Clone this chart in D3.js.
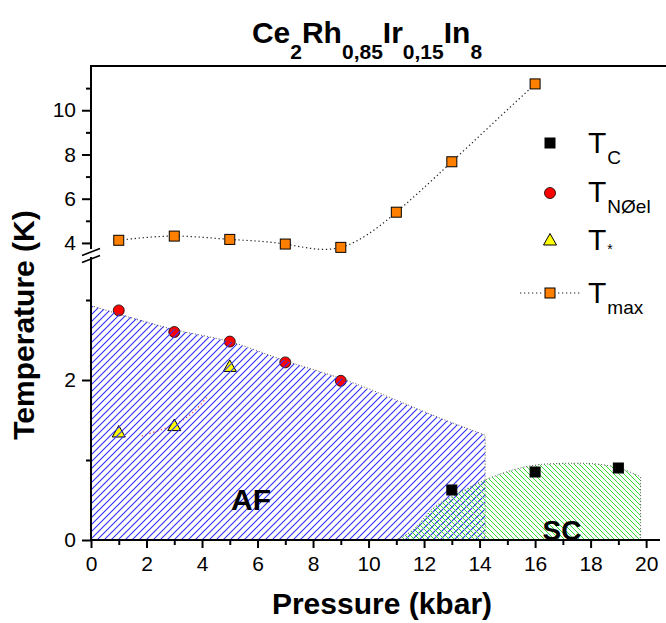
<!DOCTYPE html>
<html>
<head>
<meta charset="utf-8">
<script src="https://cdnjs.cloudflare.com/ajax/libs/d3/7.8.5/d3.min.js"></script>
<style>
body{margin:0;background:#fff;}
text{font-family:"Liberation Sans",Arial,Helvetica,sans-serif;fill:#000;}
</style>
</head>
<body>
<svg id="chart" width="666" height="623"></svg>
<script>
// T_max (orange squares, upper panel)
var maxPressure=[1,3,5,7,9,11,13,16];
var tMax=[4.12,4.31,4.16,3.95,3.80,5.39,7.67,11.19];
// T_Neel (red circles)
var neelPressure=[1,3,5,7,9];
var tNeel=[2.87,2.60,2.48,2.22,1.99];
// T* (yellow triangles) and the short red dotted fit
var starPressure=[1,3,5];
var tStar=[1.35,1.43,2.17];
var starFitPressure=[1.83,2.49,2.85,3.21,3.69,4.17];
var starFitT=[1.30,1.375,1.42,1.48,1.60,1.78];
// T_C (black squares)
var tcPressure=[13,16,19];
var tc=[0.625,0.85,0.90];
// phase boundaries
var afPressure=[0,3,5,7,9,12.9,14.2];
var afT=[2.93,2.63,2.48,2.24,2.02,1.48,1.31];
var scPressure=[10.95,11.6,12.33,13.18,14.2,15.2,16.4,17.6,18.8,19.8];
var scT=[0,0.125,0.40,0.575,0.75,0.875,0.95,0.96,0.92,0.79];
// ticks
var xMajor=[0,2,4,6,8,10,12,14,16,18,20];
var xMinor=[1,3,5,7,9,11,13,15,17,19];
var yTopMajor=[4,6,8,10];
var yTopMinor=[5,7,9,11];
var yLowMajor=[0,2];
var yLowMinor=[1,3];

var svg=d3.select("#chart");
var x=d3.scaleLinear().domain([0,20.5]).range([91,660]);
var yTop=d3.scaleLinear().domain([3.5,12]).range([254,66]);
var yLow=d3.scaleLinear().domain([0,3.5]).range([540,260]);

var defs=svg.append("defs");
defs.append("pattern").attr("id","afHatch").attr("patternUnits","userSpaceOnUse")
	.attr("width",7).attr("height",7)
	.append("path").attr("d","M-1,1 l2,-2 M0,7 l7,-7 M6,8 l2,-2")
	.attr("stroke","#2f2fff").attr("stroke-width",1.1);
defs.append("pattern").attr("id","scHatch").attr("patternUnits","userSpaceOnUse")
	.attr("width",5).attr("height",5)
	.append("path").attr("d","M-1,4 l2,2 M0,0 l5,5 M4,-1 l2,2")
	.attr("stroke","#33dd33").attr("stroke-width",1);

// T_max dotted spline
var lineTop=d3.line().x(function(d){return x(d[0]);}).y(function(d){return yTop(d[1]);}).curve(d3.curveNatural);
svg.append("path").attr("d",lineTop(d3.zip(maxPressure,tMax)))
	.attr("fill","none").attr("stroke","#222").attr("stroke-width",1.2).attr("stroke-dasharray","1.3,2.7");

var lineLow=d3.line().x(function(d){return x(d[0]);}).y(function(d){return yLow(d[1]);});
svg.append("path").attr("d",lineLow.curve(d3.curveMonotoneX)(d3.zip(starFitPressure,starFitT)))
	.attr("fill","none").attr("stroke","#ff4040").attr("stroke-width",1.2).attr("stroke-dasharray","1.3,2.7");

function square(g,cx,cy,fill){
	g.append("rect").attr("x",cx-5).attr("y",cy-5).attr("width",10).attr("height",10)
		.attr("fill",fill).attr("stroke","#000").attr("stroke-width",1);
}
function circle(g,cx,cy){
	g.append("circle").attr("cx",cx).attr("cy",cy).attr("r",5.5)
		.attr("fill","#ff0000").attr("stroke","#000").attr("stroke-width",0.8);
}
function triangle(g,cx,cy){
	g.append("path").attr("d","M"+(cx-6.5)+","+(cy+5)+" L"+cx+","+(cy-6.5)+" L"+(cx+6.5)+","+(cy+5)+" Z")
		.attr("fill","#ffff00").attr("stroke","#000").attr("stroke-width",1);
}

var marks=svg.append("g");
d3.zip(maxPressure,tMax).forEach(function(d){square(marks,x(d[0]),yTop(d[1]),"#ff8000");});
d3.zip(neelPressure,tNeel).forEach(function(d){circle(marks,x(d[0]),yLow(d[1]));});
d3.zip(starPressure,tStar).forEach(function(d){triangle(marks,x(d[0]),yLow(d[1]));});

// hatched phase regions drawn over the points
var afTop=d3.zip(afPressure,afT);
var afLast=afPressure[afPressure.length-1];
var afPoly=afTop.concat([[afLast,0],[0,0]]);
svg.append("path").attr("d",lineLow.curve(d3.curveLinear)(afPoly)+"Z").attr("fill","url(#afHatch)");
svg.append("path").attr("d",lineLow.curve(d3.curveMonotoneX)(afTop)+"L"+x(afLast)+","+yLow(0))
	.attr("fill","none").attr("stroke","#555").attr("stroke-width",1).attr("stroke-dasharray","1,2");

var scTop=d3.zip(scPressure,scT);
var scLast=scPressure[scPressure.length-1];
svg.append("path").attr("d",lineLow.curve(d3.curveMonotoneX)(scTop)+"L"+x(scLast)+","+yLow(0)+"L"+x(scPressure[0])+","+yLow(0)+"Z")
	.attr("fill","url(#scHatch)");
svg.append("path").attr("d",lineLow.curve(d3.curveMonotoneX)(scTop)+"L"+x(scLast)+","+yLow(0))
	.attr("fill","none").attr("stroke","#555").attr("stroke-width",1).attr("stroke-dasharray","1,2");

// T_C squares stay on top
var tcMarks=svg.append("g");
d3.zip(tcPressure,tc).forEach(function(d){square(tcMarks,x(d[0]),yLow(d[1]),"#000");});

svg.append("text").attr("x",251).attr("y",510).attr("text-anchor","middle")
	.style("font-size","30px").style("font-weight","bold").text("AF");
svg.append("text").attr("x",562).attr("y",540).attr("text-anchor","middle")
	.style("font-size","28px").style("font-weight","bold").text("SC");

// axes
var fmt=d3.format("d");
svg.append("g").attr("transform","translate(0,540)")
	.call(d3.axisBottom(x).tickValues(xMajor).tickSize(8).tickPadding(8).tickFormat(fmt));
svg.append("g").attr("transform","translate(0,540)")
	.call(d3.axisBottom(x).tickValues(xMinor).tickSize(5).tickFormat(""));
svg.append("g").attr("transform","translate(91,0)")
	.call(d3.axisLeft(yTop).tickValues(yTopMajor).tickSize(9).tickPadding(6).tickFormat(fmt));
svg.append("g").attr("transform","translate(91,0)")
	.call(d3.axisLeft(yTop).tickValues(yTopMinor).tickSize(5).tickFormat(""));
svg.append("g").attr("transform","translate(91,0)")
	.call(d3.axisLeft(yLow).tickValues(yLowMajor).tickSize(9).tickPadding(6).tickFormat(fmt));
svg.append("g").attr("transform","translate(91,0)")
	.call(d3.axisLeft(yLow).tickValues(yLowMinor).tickSize(5).tickFormat(""));
svg.selectAll(".domain").remove();
svg.selectAll(".tick line").attr("stroke","#000").attr("stroke-width",2);
svg.selectAll(".tick text").style("font-size","21px").attr("font-family",null);

// frame lines with the break on the left axis
svg.append("line").attr("x1",91).attr("x2",666).attr("y1",66).attr("y2",66).attr("stroke","#000").attr("stroke-width",2);
svg.append("line").attr("x1",90).attr("x2",660).attr("y1",540).attr("y2",540).attr("stroke","#000").attr("stroke-width",2);
svg.append("line").attr("x1",91).attr("x2",91).attr("y1",65).attr("y2",249).attr("stroke","#000").attr("stroke-width",2);
svg.append("line").attr("x1",91).attr("x2",91).attr("y1",257).attr("y2",541).attr("stroke","#000").attr("stroke-width",2);
[252,259].forEach(function(yy){
	svg.append("line").attr("x1",82).attr("x2",100).attr("y1",yy+3.5).attr("y2",yy-3.5)
		.attr("stroke","#000").attr("stroke-width",1.6);
});

// title
var title=svg.append("text").attr("x",367).attr("y",43).attr("text-anchor","middle").style("font-weight","bold");
var titleParts=[["Ce",0],["2",1],["Rh",0],["0,85",1],["Ir",0],["0,15",1],["In",0],["8",1]];
var lastSub=0;
titleParts.forEach(function(p){
	title.append("tspan").attr("dy",(p[1]-lastSub)*16).style("font-size",p[1]?"21px":"30px").text(p[0]);
	lastSub=p[1];
});

svg.append("text").attr("x",382).attr("y",614).attr("text-anchor","middle")
	.style("font-size","30px").style("font-weight","bold").text("Pressure (kbar)");
svg.append("text").attr("transform","translate(34,325) rotate(-90)").attr("text-anchor","middle")
	.style("font-size","30px").style("font-weight","bold").text("Temperature (K)");

// legend
var legend=svg.append("g");
var legendItems=[["C",143,153],["NØel",193,202],["*",240,250],["max",293,303]];
legendItems.forEach(function(item,i){
	var my=item[1];
	if(i===0) square(legend,550,my,"#000");
	if(i===1) circle(legend,550,my);
	if(i===2) triangle(legend,550,my);
	if(i===3){
		legend.append("line").attr("x1",520).attr("x2",542).attr("y1",my).attr("y2",my)
			.attr("stroke","#222").attr("stroke-width",1.2).attr("stroke-dasharray","1.3,2.7");
		legend.append("line").attr("x1",558).attr("x2",580).attr("y1",my).attr("y2",my)
			.attr("stroke","#222").attr("stroke-width",1.2).attr("stroke-dasharray","1.3,2.7");
		square(legend,550,my,"#ff8000");
	}
	var t=legend.append("text").attr("x",588).attr("y",item[2]).style("font-size","30px").text("T");
	t.append("tspan").attr("dy",item[0]==="*"?4:11).attr("dx",1)
		.style("font-size",item[0]==="*"?"14px":"19px").text(item[0]);
});
</script>
</body>
</html>
